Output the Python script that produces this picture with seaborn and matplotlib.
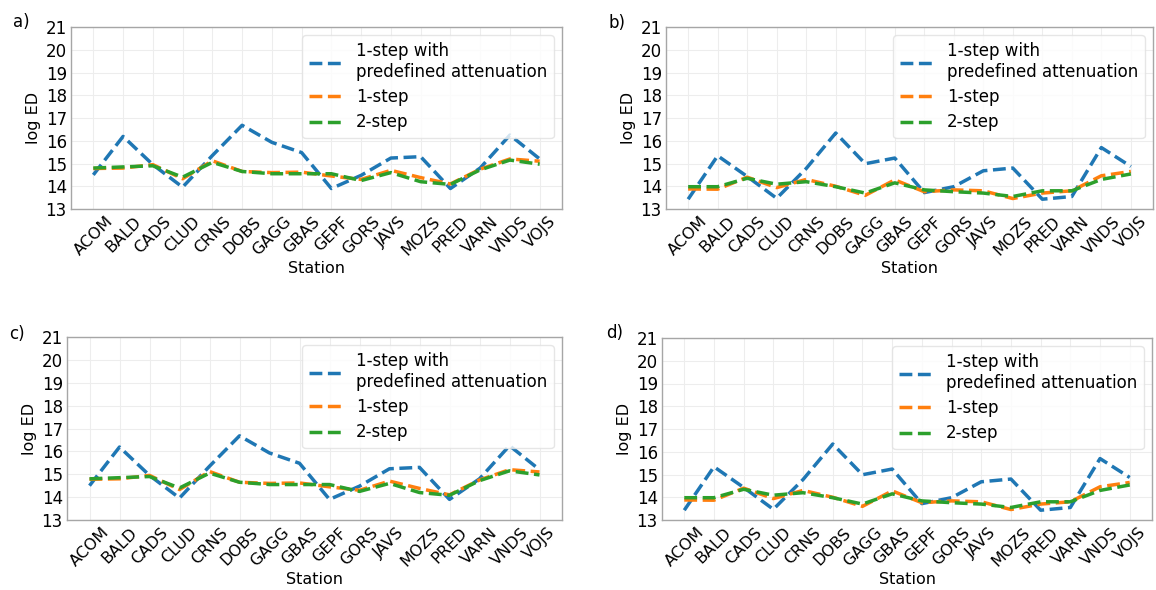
import matplotlib
matplotlib.use("Agg")
import matplotlib.pyplot as plt
import numpy as np
import pandas as pd
import seaborn as sns

stations = ["ACOM", "BALD", "CADS", "CLUD", "CRNS", "DOBS", "GAGG", "GBAS",
            "GEPF", "GORS", "JAVS", "MOZS", "PRED", "VARN", "VNDS", "VOJS"]

methods = ["1-step with\npredefined attenuation", "1-step", "2-step"]

# log ED per station, first model set (panels a and c)
a_predef = [14.50, 16.19, 14.95, 13.96, 15.35, 16.68, 15.93, 15.48,
            13.90, 14.48, 15.24, 15.30, 13.90, 14.80, 16.25, 15.20]
a_one = [14.78, 14.80, 14.95, 14.33, 15.12, 14.65, 14.60, 14.62,
         14.45, 14.30, 14.70, 14.38, 14.10, 14.75, 15.20, 15.10]
a_two = [14.80, 14.85, 14.90, 14.40, 15.05, 14.65, 14.55, 14.55,
         14.55, 14.25, 14.60, 14.20, 14.08, 14.72, 15.15, 14.97]

# log ED per station, second model set (panels b and d)
b_predef = [13.43, 15.34, 14.43, 13.47, 14.78, 16.34, 14.99, 15.24,
            13.72, 13.98, 14.68, 14.80, 13.43, 13.55, 15.70, 14.87]
b_one = [13.88, 13.87, 14.40, 13.94, 14.30, 14.00, 13.60, 14.28,
         13.76, 13.84, 13.80, 13.46, 13.70, 13.80, 14.46, 14.65]
b_two = [13.98, 13.98, 14.35, 14.09, 14.20, 13.98, 13.70, 14.15,
         13.84, 13.76, 13.70, 13.55, 13.80, 13.80, 14.30, 14.54]

panel_letters = ["a)", "b)", "c)", "d)"]
panel_series = [
    (a_predef, a_one, a_two),
    (b_predef, b_one, b_two),
    (a_predef, a_one, a_two),
    (b_predef, b_one, b_two),
]
yticks = list(range(13, 22))

sns.set_theme(style="whitegrid")
plt.rcParams.update({
    "font.family": ["DejaVu Sans"],
    "text.color": "black",
    "axes.labelcolor": "black",
    "xtick.labelcolor": "black",
    "ytick.labelcolor": "black",
    "axes.edgecolor": "0.65",
    "axes.linewidth": 1.0,
    "grid.color": "0.93",
    "grid.linewidth": 0.8,
    "xtick.major.size": 0,
    "ytick.major.size": 0,
    "xtick.major.pad": 3.5,
    "ytick.major.pad": 3.0,
})

W, H = 1156, 590
fig = plt.figure(figsize=(W / 100, H / 100), dpi=100)

# axes boxes in pixels: left, top, right, bottom
boxes = [(71, 27, 562, 209), (666, 27, 1153, 209),
         (67, 337, 562, 520), (662, 338, 1152, 520)]
letter_pos = [(13, 22), (608, 23), (9, 334), (606, 333)]
palette = sns.color_palette("tab10")[:3]

for i, (l, t, r, b) in enumerate(boxes):
    ax = fig.add_axes([l / W, 1 - b / H, (r - l) / W, (b - t) / H])
    predef, one, two = panel_series[i]
    df = pd.DataFrame({
        "Station": stations * 3,
        "log ED": list(predef) + list(one) + list(two),
        "Method": [methods[0]] * 16 + [methods[1]] * 16 + [methods[2]] * 16,
    })
    sns.lineplot(data=df, x="Station", y="log ED", hue="Method",
                 palette=palette, ax=ax, linewidth=2.5, sort=False)
    for line in ax.get_lines():
        line.set_linestyle("--")
    ax.set_ylim(13, 21)
    ax.set_yticks(yticks)
    ax.tick_params(axis="x", labelrotation=45, labelsize=11.5)
    ax.tick_params(axis="y", labelsize=12)
    ax.set_xlabel("Station", fontsize=11.5, labelpad=2)
    ax.set_ylabel("log ED", fontsize=11.5, labelpad=3)
    leg = ax.legend(loc="upper right", fontsize=12, frameon=True,
                    handlelength=2.0, labelspacing=0.44)
    for h in leg.get_lines():
        h.set_linestyle("--")
        h.set_linewidth(2.5)
    leg.get_frame().set_edgecolor("0.88")
    fig.text(letter_pos[i][0] / W, 1 - letter_pos[i][1] / H, panel_letters[i],
             fontsize=12, va="center", ha="left")

fig.savefig("out.png", dpi=100)
